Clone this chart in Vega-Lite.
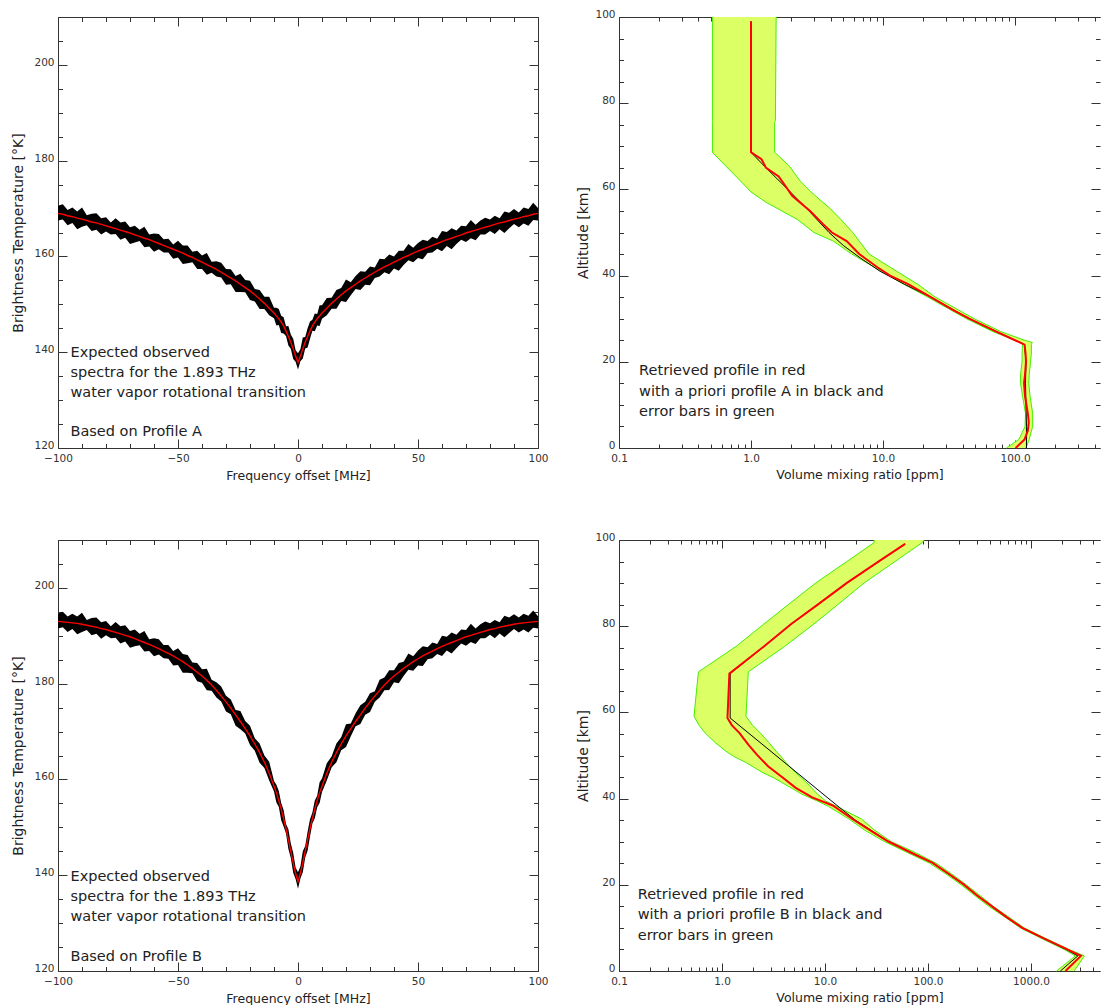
{
"$schema": "https://vega.github.io/schema/vega-lite/v6.json",
"padding": {"left": 11, "top": 9, "right": 0, "bottom": 0},
"background": "white",
"config": {
 "view": {"stroke": null},
 "axis": {"grid": false, "domainColor": "#333333", "tickColor": "#333333", "labelFont": "DejaVu Sans", "labelFontSize": 10.5, "labelColor": "#333333", "labelFlush": false, "labelOverlap": false, "labelBound": false, "titleFont": "DejaVu Sans", "titleFontWeight": "normal", "titleColor": "#222222"}
},
"datasets": {
"specA": [
{"f":-100,"t":169.0,"lo":167.5,"hi":170.6},{"f":-98,"t":168.8,"lo":167.7,"hi":170.9},{"f":-96,"t":168.5,"lo":166.5,"hi":169.7},{"f":-94,"t":168.3,"lo":167.0,"hi":170.2},{"f":-92,"t":168.0,"lo":165.7,"hi":169.4},{"f":-90,"t":167.8,"lo":166.2,"hi":170.2},{"f":-88,"t":167.5,"lo":166.5,"hi":168.6},{"f":-86,"t":167.2,"lo":165.3,"hi":168.9},{"f":-84,"t":167.0,"lo":165.6,"hi":169.0},{"f":-82,"t":166.7,"lo":164.6,"hi":168.0},{"f":-80,"t":166.4,"lo":165.2,"hi":168.2},{"f":-78,"t":166.1,"lo":164.6,"hi":167.1},{"f":-76,"t":165.8,"lo":164.7,"hi":168.0},{"f":-74,"t":165.5,"lo":163.5,"hi":167.1},{"f":-72,"t":165.2,"lo":163.9,"hi":167.3},{"f":-70,"t":164.9,"lo":162.6,"hi":166.1},{"f":-68,"t":164.5,"lo":162.9,"hi":166.4},{"f":-66,"t":164.2,"lo":163.2,"hi":165.6},{"f":-64,"t":163.8,"lo":161.9,"hi":166.2},{"f":-62,"t":163.5,"lo":162.1,"hi":164.6},{"f":-60,"t":163.1,"lo":161.0,"hi":164.8},{"f":-58,"t":162.7,"lo":161.5,"hi":164.7},{"f":-56,"t":162.3,"lo":160.8,"hi":163.6},{"f":-54,"t":161.9,"lo":160.8,"hi":163.7},{"f":-52,"t":161.5,"lo":159.5,"hi":162.5},{"f":-50,"t":161.1,"lo":159.8,"hi":163.3},{"f":-48,"t":160.7,"lo":158.4,"hi":162.3},{"f":-46,"t":160.2,"lo":158.6,"hi":162.3},{"f":-44,"t":159.8,"lo":158.8,"hi":161.0},{"f":-42,"t":159.3,"lo":157.4,"hi":161.2},{"f":-40,"t":158.8,"lo":157.4,"hi":160.2},{"f":-38,"t":158.3,"lo":156.2,"hi":160.7},{"f":-36,"t":157.8,"lo":156.6,"hi":158.9},{"f":-34,"t":157.3,"lo":155.8,"hi":159.0},{"f":-32,"t":156.7,"lo":155.6,"hi":158.7},{"f":-30,"t":156.1,"lo":154.1,"hi":157.4},{"f":-28,"t":155.5,"lo":154.2,"hi":157.3},{"f":-26,"t":154.9,"lo":152.6,"hi":155.9},{"f":-24,"t":154.2,"lo":152.6,"hi":156.4},{"f":-22,"t":153.5,"lo":152.5,"hi":155.1},{"f":-20,"t":152.8,"lo":150.9,"hi":154.9},{"f":-18,"t":152.0,"lo":150.6,"hi":153.2},{"f":-16,"t":151.1,"lo":149.0,"hi":153.0},{"f":-14,"t":150.2,"lo":149.0,"hi":151.6},{"f":-12,"t":149.2,"lo":147.7,"hi":151.6},{"f":-10,"t":148.2,"lo":147.1,"hi":149.3},{"f":-9,"t":147.6,"lo":145.6,"hi":149.3},{"f":-8,"t":147.0,"lo":145.7,"hi":149.0},{"f":-7,"t":146.3,"lo":144.0,"hi":147.6},{"f":-6,"t":145.5,"lo":143.9,"hi":147.3},{"f":-5,"t":144.4,"lo":143.4,"hi":145.4},{"f":-4,"t":143.3,"lo":141.4,"hi":145.5},{"f":-3,"t":142.1,"lo":140.7,"hi":143.7},{"f":-2,"t":140.7,"lo":138.6,"hi":142.8},{"f":-1,"t":139.2,"lo":138.0,"hi":140.4},{"f":0,"t":137.9,"lo":136.4,"hi":139.8},{"f":1,"t":139.2,"lo":138.1,"hi":140.6},{"f":2,"t":140.7,"lo":138.7,"hi":143.1},{"f":3,"t":142.1,"lo":140.8,"hi":143.2},{"f":4,"t":143.3,"lo":141.0,"hi":145.0},{"f":5,"t":144.4,"lo":142.8,"hi":146.4},{"f":6,"t":145.5,"lo":144.5,"hi":146.8},{"f":7,"t":146.3,"lo":144.4,"hi":148.1},{"f":8,"t":147.0,"lo":145.6,"hi":148.0},{"f":9,"t":147.6,"lo":145.5,"hi":149.8},{"f":10,"t":148.2,"lo":147.0,"hi":149.8},{"f":12,"t":149.2,"lo":147.7,"hi":151.3},{"f":14,"t":150.2,"lo":149.1,"hi":151.4},{"f":16,"t":151.1,"lo":149.1,"hi":153.0},{"f":18,"t":152.0,"lo":150.7,"hi":153.4},{"f":20,"t":152.8,"lo":150.5,"hi":155.2},{"f":22,"t":153.5,"lo":151.9,"hi":154.6},{"f":24,"t":154.2,"lo":153.2,"hi":155.9},{"f":26,"t":154.9,"lo":153.0,"hi":156.9},{"f":28,"t":155.5,"lo":154.1,"hi":156.8},{"f":30,"t":156.1,"lo":154.0,"hi":157.9},{"f":32,"t":156.7,"lo":155.5,"hi":157.7},{"f":34,"t":157.3,"lo":155.8,"hi":159.5},{"f":36,"t":157.8,"lo":156.7,"hi":159.4},{"f":38,"t":158.3,"lo":156.3,"hi":160.4},{"f":40,"t":158.8,"lo":157.5,"hi":160.0},{"f":42,"t":159.3,"lo":157.0,"hi":161.2},{"f":44,"t":159.8,"lo":158.2,"hi":161.2},{"f":46,"t":160.2,"lo":159.2,"hi":162.6},{"f":48,"t":160.7,"lo":158.8,"hi":161.8},{"f":50,"t":161.1,"lo":159.7,"hi":162.8},{"f":52,"t":161.5,"lo":159.4,"hi":163.5},{"f":54,"t":161.9,"lo":160.7,"hi":163.2},{"f":56,"t":162.3,"lo":160.8,"hi":164.1},{"f":58,"t":162.7,"lo":161.6,"hi":163.7},{"f":60,"t":163.1,"lo":161.1,"hi":165.3},{"f":62,"t":163.5,"lo":162.2,"hi":165.1},{"f":64,"t":163.8,"lo":161.5,"hi":165.9},{"f":66,"t":164.2,"lo":162.6,"hi":165.4},{"f":68,"t":164.5,"lo":163.5,"hi":166.4},{"f":70,"t":164.9,"lo":163.0,"hi":166.3},{"f":72,"t":165.2,"lo":163.8,"hi":167.6},{"f":74,"t":165.5,"lo":163.4,"hi":166.6},{"f":76,"t":165.8,"lo":164.6,"hi":167.5},{"f":78,"t":166.1,"lo":164.6,"hi":168.1},{"f":80,"t":166.4,"lo":165.3,"hi":167.7},{"f":82,"t":166.7,"lo":164.7,"hi":168.5},{"f":84,"t":167.0,"lo":165.7,"hi":168.0},{"f":86,"t":167.2,"lo":164.9,"hi":169.4},{"f":88,"t":167.5,"lo":165.9,"hi":169.1},{"f":90,"t":167.8,"lo":166.8,"hi":169.9},{"f":92,"t":168.0,"lo":166.1,"hi":169.2},{"f":94,"t":168.3,"lo":166.9,"hi":170.2},{"f":96,"t":168.5,"lo":166.4,"hi":169.9},{"f":98,"t":168.8,"lo":167.6,"hi":171.2},{"f":100,"t":169.0,"lo":167.5,"hi":170.1}
],
"specB": [
{"f":-100,"t":193.0,"lo":191.5,"hi":194.6},{"f":-98,"t":192.9,"lo":191.8,"hi":195.0},{"f":-96,"t":192.8,"lo":190.8,"hi":194.0},{"f":-94,"t":192.7,"lo":191.4,"hi":194.6},{"f":-92,"t":192.6,"lo":190.3,"hi":194.0},{"f":-90,"t":192.4,"lo":190.8,"hi":194.8},{"f":-88,"t":192.2,"lo":191.2,"hi":193.3},{"f":-86,"t":192.0,"lo":190.1,"hi":193.7},{"f":-84,"t":191.8,"lo":190.4,"hi":193.8},{"f":-82,"t":191.5,"lo":189.4,"hi":192.8},{"f":-80,"t":191.3,"lo":190.1,"hi":193.1},{"f":-78,"t":191.0,"lo":189.5,"hi":192.0},{"f":-76,"t":190.7,"lo":189.6,"hi":192.9},{"f":-74,"t":190.4,"lo":188.4,"hi":192.0},{"f":-72,"t":190.1,"lo":188.8,"hi":192.2},{"f":-70,"t":189.8,"lo":187.5,"hi":191.0},{"f":-68,"t":189.4,"lo":187.8,"hi":191.3},{"f":-66,"t":189.0,"lo":188.0,"hi":190.4},{"f":-64,"t":188.6,"lo":186.7,"hi":191.0},{"f":-62,"t":188.2,"lo":186.8,"hi":189.3},{"f":-60,"t":187.8,"lo":185.7,"hi":189.5},{"f":-58,"t":187.3,"lo":186.1,"hi":189.3},{"f":-56,"t":186.8,"lo":185.3,"hi":188.1},{"f":-54,"t":186.3,"lo":185.2,"hi":188.1},{"f":-52,"t":185.8,"lo":183.8,"hi":186.8},{"f":-50,"t":185.2,"lo":183.9,"hi":187.4},{"f":-48,"t":184.6,"lo":182.3,"hi":186.2},{"f":-46,"t":183.9,"lo":182.3,"hi":186.0},{"f":-44,"t":183.2,"lo":182.2,"hi":184.4},{"f":-42,"t":182.4,"lo":180.5,"hi":184.3},{"f":-40,"t":181.6,"lo":180.2,"hi":183.0},{"f":-38,"t":180.7,"lo":178.6,"hi":183.1},{"f":-36,"t":179.7,"lo":178.5,"hi":180.8},{"f":-34,"t":178.6,"lo":177.1,"hi":180.3},{"f":-32,"t":177.4,"lo":176.3,"hi":179.4},{"f":-30,"t":176.2,"lo":174.2,"hi":177.5},{"f":-28,"t":174.9,"lo":173.6,"hi":176.7},{"f":-26,"t":173.5,"lo":171.2,"hi":174.5},{"f":-24,"t":172.1,"lo":170.5,"hi":174.3},{"f":-22,"t":170.6,"lo":169.6,"hi":172.2},{"f":-20,"t":169.1,"lo":167.2,"hi":171.2},{"f":-18,"t":167.4,"lo":166.0,"hi":168.6},{"f":-16,"t":165.6,"lo":163.5,"hi":167.5},{"f":-14,"t":163.6,"lo":162.4,"hi":165.0},{"f":-12,"t":161.3,"lo":159.8,"hi":163.7},{"f":-10,"t":158.6,"lo":157.5,"hi":159.7},{"f":-9,"t":157.2,"lo":155.2,"hi":158.9},{"f":-8,"t":155.6,"lo":154.3,"hi":157.6},{"f":-7,"t":153.8,"lo":151.5,"hi":155.1},{"f":-6,"t":151.8,"lo":150.2,"hi":153.6},{"f":-5,"t":149.7,"lo":148.7,"hi":150.7},{"f":-4,"t":147.4,"lo":145.5,"hi":149.6},{"f":-3,"t":145.0,"lo":143.6,"hi":146.6},{"f":-2,"t":142.6,"lo":140.5,"hi":144.7},{"f":-1,"t":140.4,"lo":139.2,"hi":141.6},{"f":0,"t":138.7,"lo":137.2,"hi":140.6},{"f":1,"t":140.4,"lo":139.3,"hi":141.8},{"f":2,"t":142.6,"lo":140.6,"hi":145.0},{"f":3,"t":145.0,"lo":143.7,"hi":146.1},{"f":4,"t":147.4,"lo":145.1,"hi":149.1},{"f":5,"t":149.7,"lo":148.1,"hi":151.7},{"f":6,"t":151.8,"lo":150.8,"hi":153.1},{"f":7,"t":153.8,"lo":151.9,"hi":155.6},{"f":8,"t":155.6,"lo":154.2,"hi":156.6},{"f":9,"t":157.2,"lo":155.1,"hi":159.4},{"f":10,"t":158.6,"lo":157.4,"hi":160.2},{"f":12,"t":161.3,"lo":159.8,"hi":163.4},{"f":14,"t":163.6,"lo":162.5,"hi":164.8},{"f":16,"t":165.6,"lo":163.6,"hi":167.5},{"f":18,"t":167.4,"lo":166.1,"hi":168.8},{"f":20,"t":169.1,"lo":166.8,"hi":171.5},{"f":22,"t":170.6,"lo":169.0,"hi":171.7},{"f":24,"t":172.1,"lo":171.1,"hi":173.8},{"f":26,"t":173.5,"lo":171.6,"hi":175.5},{"f":28,"t":174.9,"lo":173.5,"hi":176.2},{"f":30,"t":176.2,"lo":174.1,"hi":178.0},{"f":32,"t":177.4,"lo":176.2,"hi":178.4},{"f":34,"t":178.6,"lo":177.1,"hi":180.8},{"f":36,"t":179.7,"lo":178.6,"hi":181.3},{"f":38,"t":180.7,"lo":178.7,"hi":182.8},{"f":40,"t":181.6,"lo":180.3,"hi":182.8},{"f":42,"t":182.4,"lo":180.1,"hi":184.3},{"f":44,"t":183.2,"lo":181.6,"hi":184.6},{"f":46,"t":183.9,"lo":182.9,"hi":186.3},{"f":48,"t":184.6,"lo":182.7,"hi":185.7},{"f":50,"t":185.2,"lo":183.8,"hi":186.9},{"f":52,"t":185.8,"lo":183.7,"hi":187.8},{"f":54,"t":186.3,"lo":185.1,"hi":187.6},{"f":56,"t":186.8,"lo":185.3,"hi":188.6},{"f":58,"t":187.3,"lo":186.2,"hi":188.3},{"f":60,"t":187.8,"lo":185.8,"hi":190.0},{"f":62,"t":188.2,"lo":186.9,"hi":189.8},{"f":64,"t":188.6,"lo":186.3,"hi":190.7},{"f":66,"t":189.0,"lo":187.4,"hi":190.2},{"f":68,"t":189.4,"lo":188.4,"hi":191.3},{"f":70,"t":189.8,"lo":187.9,"hi":191.2},{"f":72,"t":190.1,"lo":188.7,"hi":192.5},{"f":74,"t":190.4,"lo":188.3,"hi":191.5},{"f":76,"t":190.7,"lo":189.5,"hi":192.4},{"f":78,"t":191.0,"lo":189.5,"hi":193.0},{"f":80,"t":191.3,"lo":190.2,"hi":192.6},{"f":82,"t":191.5,"lo":189.5,"hi":193.3},{"f":84,"t":191.8,"lo":190.5,"hi":192.8},{"f":86,"t":192.0,"lo":189.7,"hi":194.2},{"f":88,"t":192.2,"lo":190.6,"hi":193.8},{"f":90,"t":192.4,"lo":191.4,"hi":194.5},{"f":92,"t":192.6,"lo":190.7,"hi":193.8},{"f":94,"t":192.7,"lo":191.3,"hi":194.6},{"f":96,"t":192.8,"lo":190.7,"hi":194.2},{"f":98,"t":192.9,"lo":191.7,"hi":195.3},{"f":100,"t":193.0,"lo":191.5,"hi":194.1}
],
"bandA": [
{"alt":100,"lo":0.51,"hi":1.55},{"alt":76,"lo":0.51,"hi":1.53},{"alt":75.5,"lo":0.51,"hi":1.51},{"alt":68.6,"lo":0.51,"hi":1.51},{"alt":65.5,"lo":0.64,"hi":1.94},{"alt":62,"lo":0.83,"hi":2.35},{"alt":59.4,"lo":1.0,"hi":2.85},{"alt":57,"lo":1.3,"hi":3.5},{"alt":55.5,"lo":1.6,"hi":4.0},{"alt":53,"lo":2.25,"hi":4.8},{"alt":50,"lo":3.0,"hi":5.9},{"alt":48,"lo":4.2,"hi":6.6},{"alt":45,"lo":5.8,"hi":7.85},{"alt":41,"lo":9.7,"hi":12.7},{"alt":38,"lo":14.4,"hi":18.3},{"alt":35,"lo":21.9,"hi":24.9},{"alt":30,"lo":42.8,"hi":49},{"alt":27,"lo":68,"hi":78},{"alt":25,"lo":100,"hi":118},{"alt":24.5,"lo":110,"hi":135},{"alt":24,"lo":114,"hi":133},{"alt":22,"lo":113,"hi":133},{"alt":20,"lo":113,"hi":131},{"alt":17,"lo":110,"hi":128},{"alt":15,"lo":110,"hi":127},{"alt":12,"lo":114,"hi":130},{"alt":10,"lo":117,"hi":133},{"alt":8,"lo":120,"hi":136},{"alt":5,"lo":119,"hi":136},{"alt":2,"lo":107,"hi":128},{"alt":0,"lo":86,"hi":121}
],
"retA": [
{"alt":99,"v":1.0},{"alt":68.6,"v":1.0},{"alt":67,"v":1.2},{"alt":65,"v":1.3},{"alt":63,"v":1.62},{"alt":60.5,"v":1.85},{"alt":58.5,"v":2.05},{"alt":55,"v":2.8},{"alt":52,"v":3.5},{"alt":50,"v":4.1},{"alt":48,"v":5.3},{"alt":45,"v":6.6},{"alt":42,"v":9.0},{"alt":40,"v":11.3},{"alt":38,"v":15.5},{"alt":35,"v":23},{"alt":32,"v":34},{"alt":30,"v":45},{"alt":27,"v":72},{"alt":25,"v":100},{"alt":24,"v":118},{"alt":22,"v":120},{"alt":20,"v":121},{"alt":17,"v":119},{"alt":15,"v":117},{"alt":12,"v":119},{"alt":10,"v":122},{"alt":8,"v":125},{"alt":6,"v":127},{"alt":4,"v":125},{"alt":2,"v":118},{"alt":0,"v":101}
],
"aprA": [
{"alt":99,"v":1.0},{"alt":68.6,"v":1.0},{"alt":65,"v":1.3},{"alt":60,"v":1.9},{"alt":55,"v":2.75},{"alt":50,"v":3.9},{"alt":47,"v":5.0},{"alt":44,"v":6.8},{"alt":41,"v":9.5},{"alt":38,"v":14.5},{"alt":35,"v":23},{"alt":30,"v":45},{"alt":25,"v":100},{"alt":24,"v":118},{"alt":20,"v":121},{"alt":15,"v":120},{"alt":10,"v":121},{"alt":5,"v":122},{"alt":0,"v":122}
],
"bandB": [
{"alt":100,"lo":30,"hi":91.7},{"alt":99.4,"lo":30,"hi":88},{"alt":95,"lo":16.3,"hi":47.8},{"alt":90,"lo":8.1,"hi":23.9},{"alt":85,"lo":4.4,"hi":13.3},{"alt":80.5,"lo":2.55,"hi":7.8},{"alt":75.3,"lo":1.37,"hi":4.05},{"alt":69.4,"lo":0.59,"hi":1.8},{"alt":59.1,"lo":0.535,"hi":1.71},{"alt":57,"lo":0.6,"hi":1.98},{"alt":55.2,"lo":0.687,"hi":2.36},{"alt":53,"lo":0.86,"hi":2.85},{"alt":51,"lo":1.09,"hi":3.35},{"alt":49.8,"lo":1.3,"hi":3.73},{"alt":48.3,"lo":1.73,"hi":4.2},{"alt":46,"lo":2.5,"hi":5.2},{"alt":44.8,"lo":3.2,"hi":5.9},{"alt":43.6,"lo":3.9,"hi":6.7},{"alt":41,"lo":6.0,"hi":8.5},{"alt":39.4,"lo":8.5,"hi":10.2},{"alt":38.2,"lo":10.8,"hi":12.9},{"alt":35.3,"lo":17,"hi":22.5},{"alt":32.5,"lo":25,"hi":31},{"alt":30,"lo":38,"hi":44},{"alt":27.5,"lo":63,"hi":75},{"alt":25,"lo":104,"hi":120},{"alt":22.5,"lo":150,"hi":170},{"alt":20,"lo":210,"hi":235},{"alt":17.5,"lo":285,"hi":320},{"alt":15,"lo":390,"hi":430},{"alt":12.5,"lo":560,"hi":610},{"alt":10,"lo":790,"hi":860},{"alt":7.5,"lo":1280,"hi":1400},{"alt":5,"lo":2100,"hi":2350},{"alt":3.5,"lo":2700,"hi":3300},{"alt":0,"lo":1770,"hi":2630}
],
"retB": [
{"alt":99.1,"v":60},{"alt":95,"v":33},{"alt":90,"v":16.2},{"alt":85,"v":8.5},{"alt":80.5,"v":4.7},{"alt":75.3,"v":2.55},{"alt":72,"v":1.7},{"alt":69,"v":1.18},{"alt":58.7,"v":1.13},{"alt":57,"v":1.25},{"alt":55.2,"v":1.48},{"alt":52.5,"v":1.8},{"alt":50.2,"v":2.18},{"alt":47.5,"v":2.8},{"alt":45.2,"v":3.74},{"alt":42.5,"v":5.2},{"alt":40.3,"v":7.5},{"alt":38.4,"v":11.9},{"alt":35.1,"v":18.9},{"alt":32.5,"v":28},{"alt":30.1,"v":40.8},{"alt":27.5,"v":68},{"alt":25.1,"v":111},{"alt":22.5,"v":160},{"alt":20.1,"v":222},{"alt":17.5,"v":300},{"alt":15.1,"v":412},{"alt":12.5,"v":580},{"alt":10,"v":824},{"alt":7.5,"v":1350},{"alt":5,"v":2246},{"alt":3.5,"v":3055},{"alt":0,"v":2163}
],
"aprB": [
{"alt":99.1,"v":60},{"alt":90,"v":16.2},{"alt":80.5,"v":4.7},{"alt":75.3,"v":2.55},{"alt":69,"v":1.2},{"alt":58.7,"v":1.2},{"alt":38.6,"v":12.8},{"alt":35.1,"v":19.5},{"alt":30.1,"v":41},{"alt":25.1,"v":110},{"alt":20.1,"v":220},{"alt":15.1,"v":410},{"alt":10,"v":820},{"alt":5,"v":2200},{"alt":3.5,"v":2850},{"alt":0,"v":1930}
]
},
"columns": 2,
"spacing": {"row": 92, "column": 81},
"bounds": "flush",
"concat": [
 {"width": 480, "height": 431,
  "layer": [
   {"data": {"name": "specA"}, "mark": {"type": "area", "color": "#000000"},
    "encoding": {
     "x": {"field": "f", "type": "quantitative", "scale": {"domain": [-100, 100], "nice": false, "zero": false},
       "axis": {"orient": "bottom", "values": [-100,-90,-80,-70,-60,-50,-40,-30,-20,-10,0,10,20,30,40,50,60,70,80,90,100], "labelExpr": "datum.value % 50 === 0 ? datum.label : ''", "tickSize": {"condition": {"test": "datum.value % 50 === 0", "value": -9}, "value": -4.5}, "labelPadding": 14, "title": "Frequency offset [MHz]", "titleFontSize": 12.5, "titlePadding": 1}},
     "y": {"field": "lo", "type": "quantitative", "scale": {"domain": [120, 210], "nice": false, "zero": false},
       "axis": {"orient": "left", "values": [120,125,130,135,140,145,150,155,160,165,170,175,180,185,190,195,200,205,210], "labelExpr": "datum.value % 20 === 0 && datum.value < 210 ? datum.label : ''", "tickSize": {"condition": {"test": "datum.value % 20 === 0", "value": -9}, "value": -4.5}, "labelPadding": 13, "labelOffset": -2.5, "title": "Brightness Temperature [°K]", "titleFontSize": 14, "titlePadding": 8}},
     "y2": {"field": "hi"}
    }},
   {"data": {"name": "specA"}, "mark": {"type": "line", "color": "#ff0000", "strokeWidth": 1.4},
    "encoding": {
     "x": {"field": "f", "type": "quantitative", "axis": {"orient": "top", "values": [-100,-90,-80,-70,-60,-50,-40,-30,-20,-10,0,10,20,30,40,50,60,70,80,90,100], "labels": false, "tickSize": {"condition": {"test": "datum.value % 50 === 0", "value": -9}, "value": -4.5}, "title": null}},
     "y": {"field": "t", "type": "quantitative", "axis": {"orient": "right", "values": [120,125,130,135,140,145,150,155,160,165,170,175,180,185,190,195,200,205,210], "labels": false, "tickSize": {"condition": {"test": "datum.value % 20 === 0", "value": -9}, "value": -4.5}, "title": null}}
    }},
   {"data": {"values": [{}]}, "mark": {"type": "text", "align": "left", "baseline": "alphabetic", "font": "DejaVu Sans", "fontSize": 14.5, "lineHeight": 20, "color": "#222222"},
    "encoding": {"x": {"datum": -94.8, "type": "quantitative", "axis": null}, "y": {"datum": 139.0, "type": "quantitative", "axis": null}, "text": {"value": ["Expected observed", "spectra for the 1.893 THz", "water vapor rotational transition"]}}},
   {"data": {"values": [{}]}, "mark": {"type": "text", "align": "left", "baseline": "alphabetic", "font": "DejaVu Sans", "fontSize": 14.5, "color": "#222222"},
    "encoding": {"x": {"datum": -94.8, "type": "quantitative", "axis": null}, "y": {"datum": 122.5, "type": "quantitative", "axis": null}, "text": {"value": "Based on Profile A"}}}
  ],
  "resolve": {"axis": {"x": "independent", "y": "independent"}}
 },
 {"width": 481, "height": 431,
  "layer": [
   {"data": {"name": "bandA"}, "mark": {"type": "area", "orient": "horizontal", "color": "#DDFF66", "opacity": 1},
    "encoding": {
     "y": {"field": "alt", "type": "quantitative", "scale": {"domain": [0, 100], "nice": false, "zero": false},
       "axis": {"orient": "left", "values": [0,5,10,15,20,25,30,35,40,45,50,55,60,65,70,75,80,85,90,95,100], "labelExpr": "datum.value % 20 === 0 ? datum.label : ''", "tickSize": {"condition": {"test": "datum.value % 20 === 0", "value": -9}, "value": -4.5}, "labelPadding": 13, "labelOffset": -2.5, "title": "Altitude [km]", "titleFontSize": 14, "titlePadding": 4}},
     "x": {"field": "lo", "type": "quantitative", "scale": {"type": "log", "domain": [0.1, 440], "nice": false},
       "axis": {"orient": "bottom", "values": [0.1,0.2,0.3,0.4,0.5,0.6,0.7,0.8,0.9,1,2,3,4,5,6,7,8,9,10,20,30,40,50,60,70,80,90,100,200,300,400], "labelExpr": "indexof([0.1,1,10,100,1000], datum.value) >= 0 ? format(datum.value, '.1f') : ''", "tickSize": {"condition": {"test": "indexof([0.1,1,10,100,1000], datum.value) >= 0", "value": -8}, "value": -4}, "labelPadding": 13, "title": "Volume mixing ratio [ppm]", "titleFontSize": 12.5, "titlePadding": 1}},
     "x2": {"field": "hi"}
    }},
   {"data": {"name": "bandA"}, "mark": {"type": "line", "color": "#44EE00", "strokeWidth": 1},
    "encoding": {"y": {"field": "alt", "type": "quantitative", "axis": null}, "x": {"field": "lo", "type": "quantitative", "axis": null}, "order": {"field": "alt", "type": "quantitative"}}},
   {"data": {"name": "bandA"}, "mark": {"type": "line", "color": "#44EE00", "strokeWidth": 1},
    "encoding": {"y": {"field": "alt", "type": "quantitative", "axis": null}, "x": {"field": "hi", "type": "quantitative", "axis": null}, "order": {"field": "alt", "type": "quantitative"}}},
   {"data": {"name": "aprA"}, "mark": {"type": "line", "color": "#000000", "strokeWidth": 1},
    "encoding": {"y": {"field": "alt", "type": "quantitative", "axis": null}, "x": {"field": "v", "type": "quantitative", "axis": null}, "order": {"field": "alt", "type": "quantitative"}}},
   {"data": {"name": "retA"}, "mark": {"type": "line", "color": "#ff0000", "strokeWidth": 2},
    "encoding": {
     "y": {"field": "alt", "type": "quantitative", "axis": {"orient": "right", "domain": false, "values": [0,5,10,15,20,25,30,35,40,45,50,55,60,65,70,75,80,85,90,95,100], "labels": false, "tickSize": {"condition": {"test": "datum.value % 20 === 0", "value": -9}, "value": -4.5}, "title": null}},
     "x": {"field": "v", "type": "quantitative", "axis": {"orient": "top", "values": [0.1,0.2,0.3,0.4,0.5,0.6,0.7,0.8,0.9,1,2,3,4,5,6,7,8,9,10,20,30,40,50,60,70,80,90,100,200,300,400], "labels": false, "tickSize": {"condition": {"test": "indexof([0.1,1,10,100,1000], datum.value) >= 0", "value": -8}, "value": -4}, "title": null}},
     "order": {"field": "alt", "type": "quantitative"}
    }},
   {"data": {"values": [{}]}, "mark": {"type": "text", "align": "left", "baseline": "alphabetic", "font": "DejaVu Sans", "fontSize": 14.5, "lineHeight": 20.5, "color": "#222222"},
    "encoding": {"x": {"datum": 0.142, "type": "quantitative", "axis": null}, "y": {"datum": 16.9, "type": "quantitative", "axis": null}, "text": {"value": ["Retrieved profile in red", "with a priori profile A in black and", "error bars in green"]}}}
  ],
  "resolve": {"axis": {"x": "independent", "y": "independent"}}
 },
 {"width": 480, "height": 431,
  "layer": [
   {"data": {"name": "specB"}, "mark": {"type": "area", "color": "#000000"},
    "encoding": {
     "x": {"field": "f", "type": "quantitative", "scale": {"domain": [-100, 100], "nice": false, "zero": false},
       "axis": {"orient": "bottom", "values": [-100,-90,-80,-70,-60,-50,-40,-30,-20,-10,0,10,20,30,40,50,60,70,80,90,100], "labelExpr": "datum.value % 50 === 0 ? datum.label : ''", "tickSize": {"condition": {"test": "datum.value % 50 === 0", "value": -9}, "value": -4.5}, "labelPadding": 14, "title": "Frequency offset [MHz]", "titleFontSize": 12.5, "titlePadding": 1}},
     "y": {"field": "lo", "type": "quantitative", "scale": {"domain": [120, 210], "nice": false, "zero": false},
       "axis": {"orient": "left", "values": [120,125,130,135,140,145,150,155,160,165,170,175,180,185,190,195,200,205,210], "labelExpr": "datum.value % 20 === 0 && datum.value < 210 ? datum.label : ''", "tickSize": {"condition": {"test": "datum.value % 20 === 0", "value": -9}, "value": -4.5}, "labelPadding": 13, "labelOffset": -2.5, "title": "Brightness Temperature [°K]", "titleFontSize": 14, "titlePadding": 8}},
     "y2": {"field": "hi"}
    }},
   {"data": {"name": "specB"}, "mark": {"type": "line", "color": "#ff0000", "strokeWidth": 1.4},
    "encoding": {
     "x": {"field": "f", "type": "quantitative", "axis": {"orient": "top", "values": [-100,-90,-80,-70,-60,-50,-40,-30,-20,-10,0,10,20,30,40,50,60,70,80,90,100], "labels": false, "tickSize": {"condition": {"test": "datum.value % 50 === 0", "value": -9}, "value": -4.5}, "title": null}},
     "y": {"field": "t", "type": "quantitative", "axis": {"orient": "right", "values": [120,125,130,135,140,145,150,155,160,165,170,175,180,185,190,195,200,205,210], "labels": false, "tickSize": {"condition": {"test": "datum.value % 20 === 0", "value": -9}, "value": -4.5}, "title": null}}
    }},
   {"data": {"values": [{}]}, "mark": {"type": "text", "align": "left", "baseline": "alphabetic", "font": "DejaVu Sans", "fontSize": 14.5, "lineHeight": 20, "color": "#222222"},
    "encoding": {"x": {"datum": -94.8, "type": "quantitative", "axis": null}, "y": {"datum": 138.8, "type": "quantitative", "axis": null}, "text": {"value": ["Expected observed", "spectra for the 1.893 THz", "water vapor rotational transition"]}}},
   {"data": {"values": [{}]}, "mark": {"type": "text", "align": "left", "baseline": "alphabetic", "font": "DejaVu Sans", "fontSize": 14.5, "color": "#222222"},
    "encoding": {"x": {"datum": -94.8, "type": "quantitative", "axis": null}, "y": {"datum": 122.0, "type": "quantitative", "axis": null}, "text": {"value": "Based on Profile B"}}}
  ],
  "resolve": {"axis": {"x": "independent", "y": "independent"}}
 },
 {"width": 481, "height": 431,
  "layer": [
   {"data": {"name": "bandB"}, "mark": {"type": "area", "orient": "horizontal", "color": "#DDFF66", "opacity": 1},
    "encoding": {
     "y": {"field": "alt", "type": "quantitative", "scale": {"domain": [0, 100], "nice": false, "zero": false},
       "axis": {"orient": "left", "values": [0,5,10,15,20,25,30,35,40,45,50,55,60,65,70,75,80,85,90,95,100], "labelExpr": "datum.value % 20 === 0 ? datum.label : ''", "tickSize": {"condition": {"test": "datum.value % 20 === 0", "value": -9}, "value": -4.5}, "labelPadding": 13, "labelOffset": -2.5, "title": "Altitude [km]", "titleFontSize": 14, "titlePadding": 4}},
     "x": {"field": "lo", "type": "quantitative", "scale": {"type": "log", "domain": [0.1, 4680], "nice": false},
       "axis": {"orient": "bottom", "values": [0.1,0.2,0.3,0.4,0.5,0.6,0.7,0.8,0.9,1,2,3,4,5,6,7,8,9,10,20,30,40,50,60,70,80,90,100,200,300,400,500,600,700,800,900,1000,2000,3000,4000], "labelExpr": "indexof([0.1,1,10,100,1000], datum.value) >= 0 ? format(datum.value, '.1f') : ''", "tickSize": {"condition": {"test": "indexof([0.1,1,10,100,1000], datum.value) >= 0", "value": -8}, "value": -4}, "labelPadding": 13, "title": "Volume mixing ratio [ppm]", "titleFontSize": 12.5, "titlePadding": 1}},
     "x2": {"field": "hi"}
    }},
   {"data": {"name": "bandB"}, "mark": {"type": "line", "color": "#44EE00", "strokeWidth": 1},
    "encoding": {"y": {"field": "alt", "type": "quantitative", "axis": null}, "x": {"field": "lo", "type": "quantitative", "axis": null}, "order": {"field": "alt", "type": "quantitative"}}},
   {"data": {"name": "bandB"}, "mark": {"type": "line", "color": "#44EE00", "strokeWidth": 1},
    "encoding": {"y": {"field": "alt", "type": "quantitative", "axis": null}, "x": {"field": "hi", "type": "quantitative", "axis": null}, "order": {"field": "alt", "type": "quantitative"}}},
   {"data": {"name": "aprB"}, "mark": {"type": "line", "color": "#000000", "strokeWidth": 1},
    "encoding": {"y": {"field": "alt", "type": "quantitative", "axis": null}, "x": {"field": "v", "type": "quantitative", "axis": null}, "order": {"field": "alt", "type": "quantitative"}}},
   {"data": {"name": "retB"}, "mark": {"type": "line", "color": "#ff0000", "strokeWidth": 2},
    "encoding": {
     "y": {"field": "alt", "type": "quantitative", "axis": {"orient": "right", "domain": false, "values": [0,5,10,15,20,25,30,35,40,45,50,55,60,65,70,75,80,85,90,95,100], "labels": false, "tickSize": {"condition": {"test": "datum.value % 20 === 0", "value": -9}, "value": -4.5}, "title": null}},
     "x": {"field": "v", "type": "quantitative", "axis": {"orient": "top", "values": [0.1,0.2,0.3,0.4,0.5,0.6,0.7,0.8,0.9,1,2,3,4,5,6,7,8,9,10,20,30,40,50,60,70,80,90,100,200,300,400,500,600,700,800,900,1000,2000,3000,4000], "labels": false, "tickSize": {"condition": {"test": "indexof([0.1,1,10,100,1000], datum.value) >= 0", "value": -8}, "value": -4}, "title": null}},
     "order": {"field": "alt", "type": "quantitative"}
    }},
   {"data": {"values": [{}]}, "mark": {"type": "text", "align": "left", "baseline": "alphabetic", "font": "DejaVu Sans", "fontSize": 14.5, "lineHeight": 20.5, "color": "#222222"},
    "encoding": {"x": {"datum": 0.152, "type": "quantitative", "axis": null}, "y": {"datum": 16.8, "type": "quantitative", "axis": null}, "text": {"value": ["Retrieved profile in red", "with a priori profile B in black and", "error bars in green"]}}}
  ],
  "resolve": {"axis": {"x": "independent", "y": "independent"}}
 }
]
}
